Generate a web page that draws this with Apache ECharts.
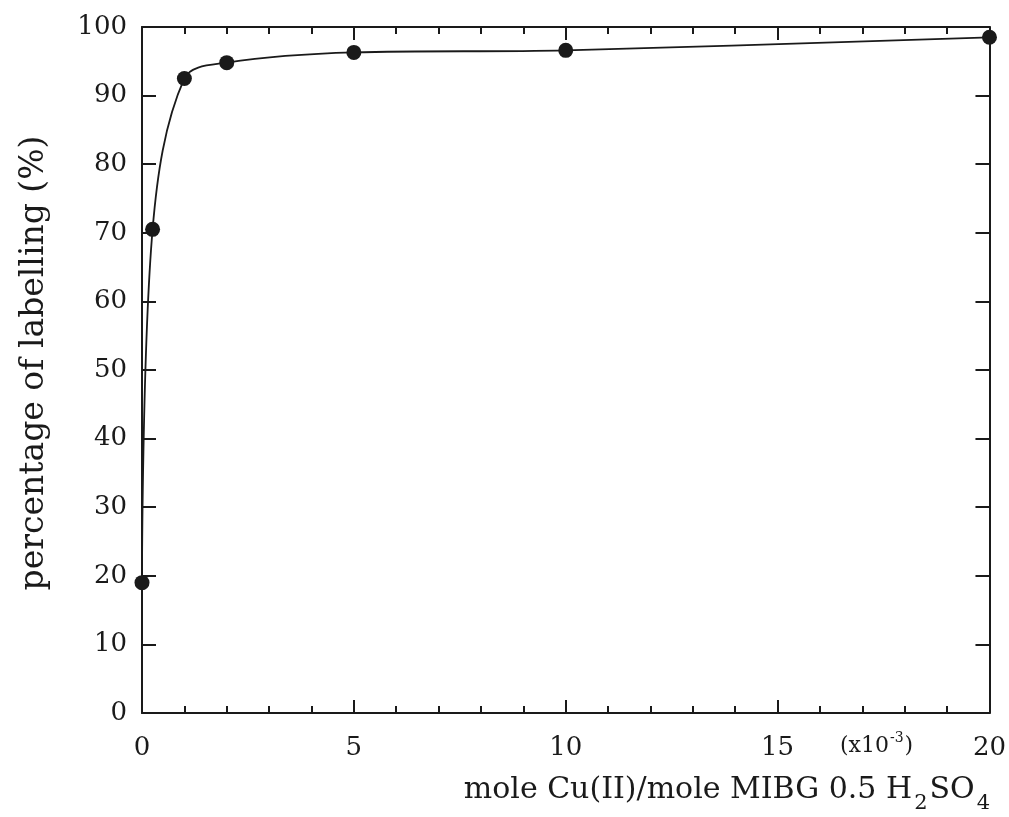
<!DOCTYPE html>
<html>
<head>
<meta charset="utf-8">
<script src="https://cdn.jsdelivr.net/npm/echarts@6/dist/echarts.min.js"></script>
<style>
html,body{margin:0;padding:0;background:#fff;}
#chart{width:1009px;height:817px;}
</style>
</head>
<body>
<div id="chart"></div>
<script>
// Data
const ratioX = [0, 0.25, 1, 2, 5, 10, 20];               // mole Cu(II)/mole MIBG (x10^-3)
const labelling = [19, 70.5, 92.5, 94.8, 96.3, 96.6, 98.5]; // percentage of labelling (%)
const xTicks = [0, 5, 10, 15, 20];
const yTicks = [0, 10, 20, 30, 40, 50, 60, 70, 80, 90, 100];

const FONT = 'DejaVu Serif';
const INK = '#1a1a1a';

const chart = echarts.init(document.getElementById('chart'), null, {renderer: 'canvas'});

const points = ratioX.map((x, i) => [x, labelling[i]]);

const axisLine = {show: true, onZero: false, lineStyle: {color: INK, width: 2}};
const tickStyle = {color: INK, width: 2};

chart.setOption({
  backgroundColor: '#fff',
  animation: false,
  grid: {left: 142, right: 19, top: 27, bottom: 104, containLabel: false},
  xAxis: [{
    type: 'value', position: 'bottom',
    min: xTicks[0], max: xTicks[xTicks.length - 1], interval: 5,
    axisLine: axisLine,
    axisTick: {show: true, inside: true, length: 13, lineStyle: tickStyle},
    minorTick: {show: true, splitNumber: 5, length: 7, lineStyle: tickStyle},
    splitLine: {show: false},
    axisLabel: {color: INK, fontFamily: FONT, fontSize: 26, margin: 22}
  }, {
    type: 'value', position: 'top',
    min: xTicks[0], max: xTicks[xTicks.length - 1], interval: 5,
    axisLine: axisLine,
    axisTick: {show: true, inside: true, length: 13, lineStyle: tickStyle},
    minorTick: {show: true, splitNumber: 5, length: 7, lineStyle: tickStyle},
    splitLine: {show: false},
    axisLabel: {show: false}
  }],
  yAxis: [{
    type: 'value', position: 'left',
    min: yTicks[0], max: yTicks[yTicks.length - 1], interval: 10,
    axisLine: axisLine,
    axisTick: {show: true, inside: true, length: 14, lineStyle: tickStyle},
    splitLine: {show: false},
    axisLabel: {color: INK, fontFamily: FONT, fontSize: 26, margin: 15},
    name: 'percentage of labelling (%)',
    nameLocation: 'middle', nameGap: 91, nameRotate: 90,
    nameTextStyle: {color: INK, fontFamily: FONT, fontSize: 33, padding: [0, 0, 0, 14]}
  }, {
    type: 'value', position: 'right',
    min: yTicks[0], max: yTicks[yTicks.length - 1], interval: 10,
    axisLine: axisLine,
    axisTick: {show: true, inside: true, length: 14, lineStyle: tickStyle},
    splitLine: {show: false},
    axisLabel: {show: false}
  }],
  graphic: [{
    type: 'text', right: 19, top: 775,
    style: {
      text: '{m|mole Cu(II)/mole MIBG 0.5 H}{s|2}{m|SO}{s|4}',
      rich: {
        m: {fontFamily: FONT, fontSize: 30, fill: INK, verticalAlign: 'bottom', padding: [0, 0, 9, 0]},
        s: {fontFamily: FONT, fontSize: 21, fill: INK, verticalAlign: 'bottom', padding: [0, 2, 0, 2]}
      }
    }
  }, {
    type: 'text', left: 840, top: 731,
    style: {
      text: '{a|(x10}{p|-3}{a|)}',
      rich: {
        a: {fontFamily: FONT, fontSize: 22, fill: INK, verticalAlign: 'bottom'},
        p: {fontFamily: FONT, fontSize: 14, fill: INK, verticalAlign: 'bottom', padding: [0, 1, 12, 1]}
      }
    }
  }],
  series: [{
    type: 'line',
    data: points,
    xAxisIndex: 0, yAxisIndex: 0,
    smooth: 0.35,
    symbol: 'circle',
    symbolSize: 15,
    itemStyle: {color: INK},
    lineStyle: {color: INK, width: 1.8},
    clip: false
  }]
});
</script>
</body>
</html>
